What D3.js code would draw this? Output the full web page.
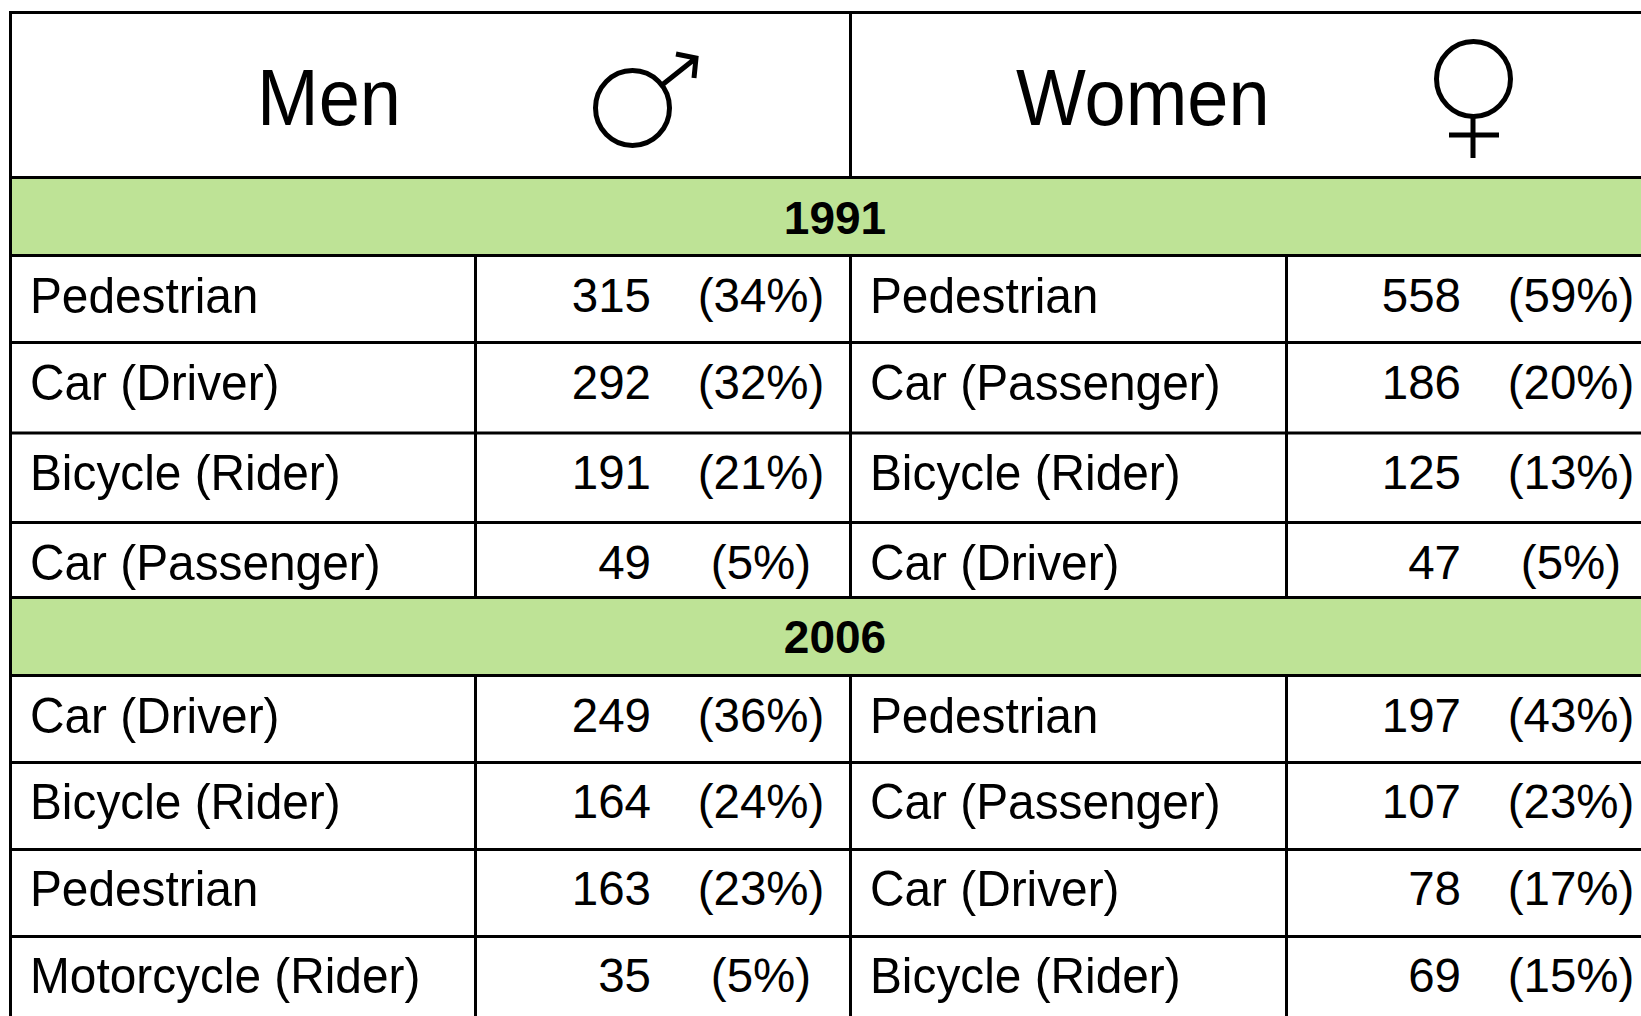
<!DOCTYPE html>
<html lang="en">
	<head>
		<meta charset="utf-8">
		<title>Men and women by mode of travel</title>
		<script type="text/javascript" src="https://d3js.org/d3.v7.min.js"></script>
		<style type="text/css">
			html, body { margin:0; padding:0; background:white; overflow:hidden; }
			svg { display:block; }
			text { font-family:"Liberation Sans", Arial, sans-serif; fill:black; }
		</style>
	</head>
	<body>
		<svg id="table"></svg>
		<script type="text/javascript">
			var groups = ["Men","Women"];
			var years = [1991,2006];

			var men1991Modes = ["Pedestrian","Car (Driver)","Bicycle (Rider)","Car (Passenger)"];
			var men1991Counts = [315,292,191,49];
			var men1991Shares = [34,32,21,5];
			var women1991Modes = ["Pedestrian","Car (Passenger)","Bicycle (Rider)","Car (Driver)"];
			var women1991Counts = [558,186,125,47];
			var women1991Shares = [59,20,13,5];

			var men2006Modes = ["Car (Driver)","Bicycle (Rider)","Pedestrian","Motorcycle (Rider)"];
			var men2006Counts = [249,164,163,35];
			var men2006Shares = [36,24,23,5];
			var women2006Modes = ["Pedestrian","Car (Passenger)","Car (Driver)","Bicycle (Rider)"];
			var women2006Counts = [197,107,78,69];
			var women2006Shares = [43,23,17,15];

			var w = 1641;
			var h = 1016;
			var lineColor = "black";
			var green = "#bee396";
			var bodySize = 47.5;

			// table layout: rows are not evenly spaced in the original
			var rowKeys = ["1991-0","1991-1","1991-2","1991-3","2006-0","2006-1","2006-2","2006-3"];
			var baselineScale = d3.scaleOrdinal().domain(rowKeys).range([312,399,489,579,732,818,905,992]);
			var yearScale = d3.scaleOrdinal().domain(years).range([177.5,597.5]);
			var yearBaseline = d3.scaleOrdinal().domain(years).range([234,653]);
			var yearHeight = {1991:78,2006:78};
			var labelX = d3.scaleOrdinal().domain(groups).range([30,870]);
			var countX = d3.scaleOrdinal().domain(groups).range([651,1461]);
			var shareX = d3.scaleOrdinal().domain(groups).range([761,1571]);
			var splitX = d3.scaleOrdinal().domain(groups).range([475.5,1286.5]);
			var left = 10.5, mid = 850.5, top_ = 12.5;

			var rows = [];
			function addRows(group,year,modes,counts,shares){
				modes.forEach(function(m,i){
					rows.push({group:group,year:year,i:i,mode:m,count:counts[i],share:shares[i]});
				});
			}
			addRows("Men",1991,men1991Modes,men1991Counts,men1991Shares);
			addRows("Women",1991,women1991Modes,women1991Counts,women1991Shares);
			addRows("Men",2006,men2006Modes,men2006Counts,men2006Shares);
			addRows("Women",2006,women2006Modes,women2006Counts,women2006Shares);

			var svg = d3.select("#table").attr("width",w).attr("height",h);

			/////////  GREEN YEAR BANDS  ////////////////////////////////////

			svg.selectAll("rect.band")
				.data(years)
				.enter()
				.append("rect")
				.attr("class","band")
				.attr("x",left)
				.attr("y",d=>yearScale(d))
				.attr("width",w-left)
				.attr("height",d=>yearHeight[d])
				.attr("fill",green);

			svg.selectAll("text.year")
				.data(years)
				.enter()
				.append("text")
				.attr("class","year")
				.text(d=>d)
				.attr("x",835)
				.attr("y",d=>yearBaseline(d))
				.attr("text-anchor","middle")
				.attr("font-weight","bold")
				.attr("font-size",46);

			/////////  GRID LINES  //////////////////////////////////////////

			var hLines = [top_,177.5,255.5,342.5,433,522.5,597.5,675.5,762.5,849.5,936.5];
			svg.selectAll("line.h")
				.data(hLines)
				.enter()
				.append("line")
				.attr("class","h")
				.attr("x1",left-1.5)
				.attr("x2",w)
				.attr("y1",d=>d)
				.attr("y2",d=>d)
				.attr("stroke",lineColor)
				.attr("stroke-width",3);

			// outer left edge
			svg.append("line")
				.attr("x1",left).attr("x2",left)
				.attr("y1",top_).attr("y2",h)
				.attr("stroke",lineColor).attr("stroke-width",3);

			// middle divider, stops at the green bands
			var midSpans = [[top_,177.5],[255.5,597.5],[675.5,h]];
			svg.selectAll("line.mid")
				.data(midSpans)
				.enter()
				.append("line")
				.attr("class","mid")
				.attr("x1",mid).attr("x2",mid)
				.attr("y1",d=>d[0]).attr("y2",d=>d[1])
				.attr("stroke",lineColor).attr("stroke-width",3);

			// label / number dividers
			var splitSpans = [];
			groups.forEach(function(g){
				splitSpans.push({g:g,y1:255.5,y2:597.5});
				splitSpans.push({g:g,y1:675.5,y2:h});
			});
			svg.selectAll("line.split")
				.data(splitSpans)
				.enter()
				.append("line")
				.attr("class","split")
				.attr("x1",d=>splitX(d.g)).attr("x2",d=>splitX(d.g))
				.attr("y1",d=>d.y1).attr("y2",d=>d.y2)
				.attr("stroke",lineColor).attr("stroke-width",3);

			/////////  HEADER  //////////////////////////////////////////////

			// Helvetica caps are a bit taller than Liberation, hence the scale(1,y)
			var headX = d3.scaleOrdinal().domain(groups).range([257,1016]);
			svg.selectAll("text.head")
				.data(groups)
				.enter()
				.append("text")
				.attr("class","head")
				.text(d=>d)
				.attr("transform",d=>"translate("+headX(d)+",124.5) scale(1,1.07)")
				.attr("font-size",74);

			// male symbol
			var male = svg.append("g")
				.attr("fill","none").attr("stroke","black").attr("stroke-width",5);
			male.append("ellipse").attr("cx",632.5).attr("cy",108).attr("rx",37).attr("ry",37.5);
			var malePath = d3.path();
			malePath.moveTo(662,85);
			malePath.lineTo(696,58);
			malePath.moveTo(676,54);
			malePath.lineTo(696,58);
			malePath.lineTo(694,78);
			male.append("path").attr("d",malePath.toString());

			// female symbol
			var female = svg.append("g")
				.attr("fill","none").attr("stroke","black").attr("stroke-width",5);
			female.append("ellipse").attr("cx",1473.5).attr("cy",79).attr("rx",37).attr("ry",37.5);
			var femalePath = d3.path();
			femalePath.moveTo(1473,116);
			femalePath.lineTo(1473,158);
			femalePath.moveTo(1449,135);
			femalePath.lineTo(1499,135);
			female.append("path").attr("d",femalePath.toString());

			/////////  BODY ROWS  ///////////////////////////////////////////

			function rowY(d){ return baselineScale(d.year+"-"+d.i); }

			svg.selectAll("text.mode")
				.data(rows)
				.enter()
				.append("text")
				.attr("class","mode")
				.text(d=>d.mode)
				.attr("transform",d=>"translate("+labelX(d.group)+","+(rowY(d)+1)+") scale(1,1.04)")
				.attr("font-size",47.8);

			svg.selectAll("text.count")
				.data(rows)
				.enter()
				.append("text")
				.attr("class","count")
				.text(d=>d.count)
				.attr("x",d=>countX(d.group))
				.attr("y",rowY)
				.attr("text-anchor","end")
				.attr("font-size",bodySize);

			svg.selectAll("text.share")
				.data(rows)
				.enter()
				.append("text")
				.attr("class","share")
				.text(d=>"("+d.share+"%)")
				.attr("x",d=>shareX(d.group))
				.attr("y",rowY)
				.attr("text-anchor","middle")
				.attr("font-size",bodySize);
		</script>
	</body>
</html>
